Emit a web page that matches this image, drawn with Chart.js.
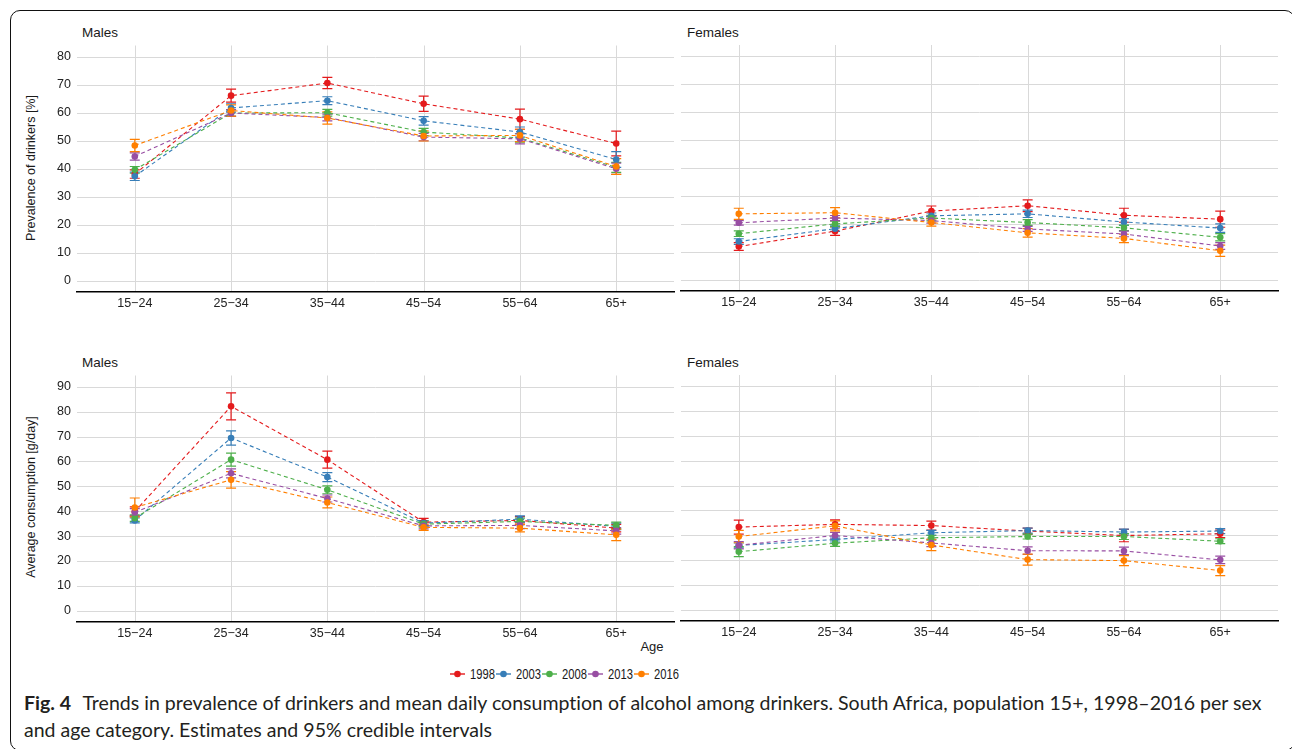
<!DOCTYPE html>
<html>
<head>
<meta charset="utf-8">
<script src="https://cdn.jsdelivr.net/npm/chart.js@4.4.1/dist/chart.umd.min.js"></script>
<style>
  html, body { margin: 0; padding: 0; background: #fff; }
  body { width: 1292px; height: 749px; position: relative; overflow: hidden; font-family: "Liberation Sans", Arial, sans-serif; color: #1a1a1a; }
  .frame { position: absolute; left: 10px; top: 10px; width: 1285px; height: 741px; border: 1.3px solid #111; border-radius: 10px; box-sizing: border-box; }
  canvas { position: absolute; }
  .strip { position: absolute; font-size: 13.5px; line-height: 16px; }
  .ytitle { position: absolute; font-size: 12.5px; white-space: nowrap; transform: translate(-50%, -50%) rotate(-90deg); }
  .xtitle { position: absolute; font-size: 13px; transform: translate(-50%, -50%); }
  .legend { position: absolute; left: 450px; top: 666px; display: flex; }
  .legend .item { width: 46px; display: flex; align-items: center; font-size: 14px; height: 16px; white-space: nowrap; }
  .legend svg { margin-right: 5px; flex: none; }
  .legend span { display: inline-block; transform: scaleX(0.8); transform-origin: left center; }
  .caption { position: absolute; left: 24px; font-family: Lato, "Open Sans", sans-serif; color: #231f20; white-space: nowrap; font-size: 18px; font-variant-ligatures: none; }
  .caption b { font-weight: 700; margin-right: 7px; }
</style>
</head>
<body>
<div class="frame"></div>

<div class="strip" style="left:82px; top:25px;">Males</div>
<div class="strip" style="left:687px; top:25px;">Females</div>
<div class="strip" style="left:82px; top:355px;">Males</div>
<div class="strip" style="left:687px; top:355px;">Females</div>

<div class="ytitle" style="left:31px; top:168px;">Prevalence of drinkers [%]</div>
<div class="ytitle" style="left:31px; top:497px;">Average consumption [g/day]</div>
<div class="xtitle" style="left:652px; top:646px;">Age</div>

<canvas id="malePrevChart" width="634" height="268"></canvas>
<canvas id="femalePrevChart" width="597" height="268"></canvas>
<canvas id="maleConsChart" width="634" height="268"></canvas>
<canvas id="femaleConsChart" width="597" height="268"></canvas>

<div class="legend" id="legend"></div>

<div class="caption" id="cap1" style="top:691px;"><b>Fig. 4</b> Trends in prevalence of drinkers and mean daily consumption of alcohol among drinkers. South Africa, population 15+, 1998–2016 per sex</div>
<div class="caption" id="cap2" style="top:718px;">and age category. Estimates and 95% credible intervals</div>

<script>
// categories / series
const ageGroups = ['15−24', '25−34', '35−44', '45−54', '55−64', '65+'];
const years = ['1998', '2003', '2008', '2013', '2016'];
const palette = ['#E41A1C', '#377EB8', '#4DAF4A', '#984EA3', '#FF7F00'];

// prevalence of drinkers [%], one row per year
const malePrev = [
  [38.1, 66.1, 70.6, 63.2, 57.7, 49.0],
  [37.3, 61.7, 64.3, 57.1, 53.1, 43.3],
  [39.6, 59.9, 60.0, 53.1, 51.0, 40.5],
  [44.4, 59.9, 58.3, 51.3, 50.7, 40.0],
  [48.3, 60.8, 58.1, 51.7, 51.9, 40.8]
];
// half width of 95% credible interval
const malePrevCI = [
  [1.5, 2.3, 2.0, 2.7, 3.6, 4.4],
  [1.5, 1.5, 1.4, 1.5, 1.8, 2.8],
  [1.2, 1.2, 1.2, 1.3, 1.5, 1.8],
  [1.3, 1.2, 1.2, 1.3, 1.8, 2.0],
  [2.2, 2.0, 2.2, 1.8, 2.2, 2.8]
];
const femalePrev = [
  [11.9, 17.4, 24.6, 26.5, 23.1, 21.7],
  [13.7, 18.3, 22.9, 23.6, 20.7, 18.5],
  [16.5, 20.0, 22.1, 20.5, 18.6, 15.2],
  [20.4, 22.1, 21.2, 18.2, 16.4, 12.1],
  [23.6, 24.0, 20.5, 16.8, 14.8, 10.4]
];
const femalePrevCI = [
  [1.4, 1.5, 1.8, 2.1, 2.5, 2.9],
  [1.0, 1.0, 1.0, 1.3, 1.2, 1.5],
  [1.0, 1.0, 1.0, 1.0, 1.0, 1.3],
  [0.8, 0.9, 0.9, 0.9, 1.0, 1.2],
  [2.0, 1.8, 1.3, 1.5, 1.5, 2.0]
];

// average consumption [g/day]
const maleCons = [
  [39.9, 82.1, 60.7, 35.6, 36.3, 33.2],
  [36.3, 69.4, 53.7, 35.2, 36.8, 33.9],
  [37.2, 60.7, 48.6, 34.8, 35.9, 34.3],
  [39.5, 55.2, 45.1, 34.1, 34.3, 32.1],
  [41.5, 52.6, 43.5, 33.5, 33.2, 30.5]
];
const maleConsCI = [
  [1.8, 5.4, 3.4, 1.5, 1.5, 1.5],
  [1.0, 2.9, 1.8, 1.0, 1.3, 1.3],
  [1.3, 2.6, 1.6, 1.2, 1.3, 1.3],
  [1.5, 1.8, 1.4, 1.2, 1.3, 1.3],
  [3.8, 3.3, 2.2, 1.2, 1.5, 2.3]
];
const femaleCons = [
  [33.3, 34.4, 33.9, 31.7, 29.9, 30.6],
  [25.9, 28.3, 31.0, 31.9, 31.3, 31.7],
  [23.4, 26.8, 29.0, 29.5, 29.5, 27.6],
  [26.0, 29.9, 26.9, 23.8, 23.7, 20.1],
  [29.5, 33.8, 26.1, 20.2, 19.8, 15.8]
];
const femaleConsCI = [
  [2.8, 1.8, 1.8, 1.2, 2.5, 1.5],
  [1.0, 1.0, 1.0, 1.0, 1.2, 1.0],
  [2.0, 1.3, 1.0, 1.0, 1.2, 1.0],
  [1.5, 1.3, 1.5, 1.5, 1.5, 1.5],
  [2.5, 2.0, 2.3, 2.2, 2.0, 2.0]
];

const prevTicks = [0, 10, 20, 30, 40, 50, 60, 70, 80];
const consTicks = [0, 10, 20, 30, 40, 50, 60, 70, 80, 90];

const GRID = '#d9d9d9';
const TEXT = '#222';
const tickFont = { family: '"Liberation Sans", Arial, sans-serif', size: 12.5 };

// grid lines on the scale ticks, inside the plot area only
const panelGrid = {
  id: 'panelGrid',
  beforeDraw(chart) {
    const { ctx, chartArea: a, scales: { x, y } } = chart;
    ctx.save();
    ctx.strokeStyle = GRID;
    ctx.lineWidth = 1;
    ctx.beginPath();
    x.ticks.forEach(t => {
      const px = Math.round(x.getPixelForValue(t.value)) + 0.5;
      ctx.moveTo(px, a.top); ctx.lineTo(px, a.bottom);
    });
    y.ticks.forEach(t => {
      const py = Math.round(y.getPixelForValue(t.value)) + 0.5;
      ctx.moveTo(a.left, py); ctx.lineTo(a.right, py);
    });
    ctx.stroke();
    ctx.restore();
  }
};

// error bars drawn from the chart scales
const errorBars = {
  id: 'errorBars',
  beforeDatasetsDraw(chart) {
    const { ctx, scales: { x, y } } = chart;
    chart.data.datasets.forEach(ds => {
      ctx.save();
      ctx.strokeStyle = ds.borderColor;
      ctx.lineWidth = 1.2;
      ds.data.forEach((p, i) => {
        const px = x.getPixelForValue(p.x);
        const lo = y.getPixelForValue(p.y - ds.ci[i]);
        const hi = y.getPixelForValue(p.y + ds.ci[i]);
        ctx.beginPath();
        ctx.moveTo(px, lo); ctx.lineTo(px, hi);
        ctx.moveTo(px - 5, lo); ctx.lineTo(px + 5, lo);
        ctx.moveTo(px - 5, hi); ctx.lineTo(px + 5, hi);
        ctx.stroke();
      });
      ctx.restore();
    });
  }
};

function panelConfig(values, ci, yTicks, yMin, yMax, showY) {
  const datasets = years.map((yr, k) => ({
    label: yr,
    data: values[k].map((v, i) => ({ x: i, y: v })),
    ci: ci[k],
    borderColor: palette[k],
    backgroundColor: palette[k],
    borderWidth: 1.1,
    borderDash: [4, 3],
    pointRadius: 3.3,
    pointBorderWidth: 0,
    pointBackgroundColor: palette[k],
    tension: 0,
    order: years.length - k
  }));

  return {
    type: 'line',
    data: { datasets },
    options: {
      responsive: false,
      maintainAspectRatio: false,
      animation: false,
      layout: { padding: 0 },
      plugins: { legend: { display: false }, tooltip: { enabled: false } },
      scales: {
        x: {
          type: 'linear',
          min: -0.6,
          max: 5.6,
          afterBuildTicks: a => { a.ticks = ageGroups.map((_, i) => ({ value: i })); },
          afterFit: s => { s.height = 22; },
          ticks: { callback: v => ageGroups[v], autoSkip: false, maxRotation: 0, padding: 4, color: TEXT, font: tickFont },
          grid: { display: false, drawTicks: false },
          border: { display: true, color: '#000', width: 1.5 }
        },
        y: {
          min: yMin,
          max: yMax,
          afterBuildTicks: a => { a.ticks = yTicks.map(v => ({ value: v })); },
          afterFit: s => { s.width = showY ? 37 : 0; },
          ticks: { display: showY, padding: 6, color: TEXT, font: tickFont },
          grid: { display: false, drawTicks: false },
          border: { display: false }
        }
      }
    },
    plugins: [panelGrid, errorBars]
  };
}

// build once, measure the plot area, then rebuild so the plot area sits on the panel box
function makePanel(id, box, cfgArgs) {
  const canvas = document.getElementById(id);
  let chart = new Chart(canvas, panelConfig(...cfgArgs));
  const a = chart.chartArea;
  const w = Math.round(canvas.width + box.w - (a.right - a.left));
  const h = Math.round(canvas.height + box.h - (a.bottom - a.top));
  chart.destroy();
  canvas.width = w;
  canvas.height = h;
  chart = new Chart(canvas, panelConfig(...cfgArgs));
  const b = chart.chartArea;
  canvas.style.left = (box.left - b.left) + 'px';
  canvas.style.top = (box.top - b.top) + 'px';
}

makePanel('malePrevChart', { left: 77, top: 45, w: 597, h: 246 }, [malePrev, malePrevCI, prevTicks, -4, 84, true]);
makePanel('femalePrevChart', { left: 681, top: 45, w: 597, h: 246 }, [femalePrev, femalePrevCI, prevTicks, -4, 84, false]);
makePanel('maleConsChart', { left: 77, top: 375, w: 597, h: 246 }, [maleCons, maleConsCI, consTicks, -4.5, 94.5, true]);
makePanel('femaleConsChart', { left: 681, top: 375, w: 597, h: 246 }, [femaleCons, femaleConsCI, consTicks, -4.5, 94.5, false]);

// legend
const legend = document.getElementById('legend');
years.forEach((yr, k) => {
  const item = document.createElement('div');
  item.className = 'item';
  item.innerHTML = `<svg width="15" height="8"><line x1="0" y1="4" x2="15" y2="4" stroke="${palette[k]}" stroke-width="1.4"/><circle cx="7.5" cy="4" r="3.3" fill="${palette[k]}"/></svg><span>${yr}</span>`;
  legend.appendChild(item);
});

// fit caption to the reference line length
const cap1 = document.getElementById('cap1');
const cap2 = document.getElementById('cap2');
const fit = 18 * 1239 / cap1.offsetWidth;
cap1.style.fontSize = fit + 'px';
cap2.style.fontSize = fit + 'px';
</script>
</body>
</html>
